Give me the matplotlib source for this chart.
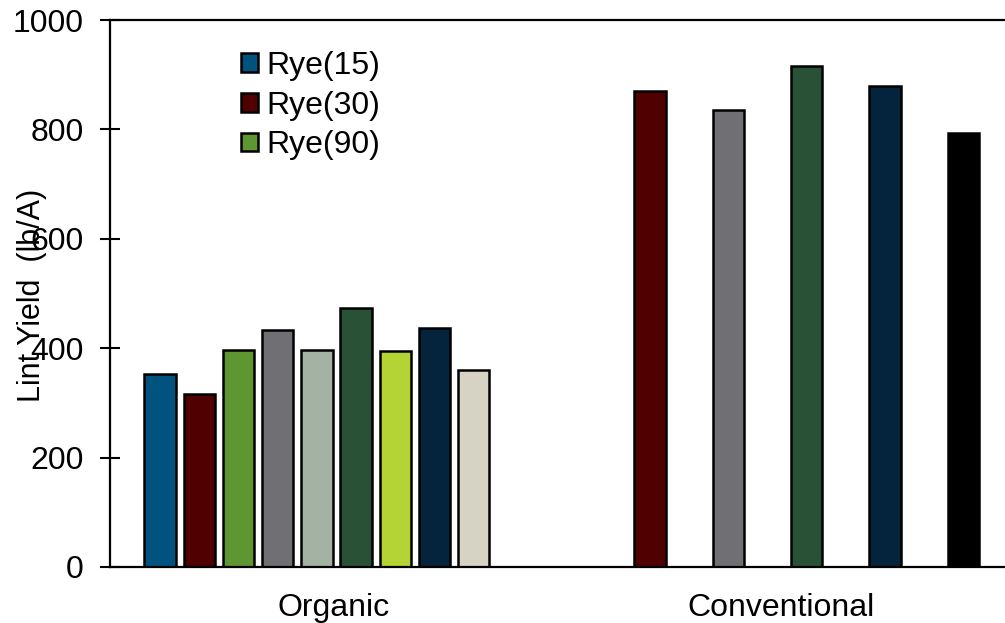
import matplotlib
matplotlib.use('Agg')
import matplotlib.pyplot as plt
import numpy as np

plt.rcParams['font.family'] = ['Liberation Sans', 'DejaVu Sans']

# organic treatments (only the first three are named in the legend)
organic_labels = ['Rye(15)', 'Rye(30)', 'Rye(90)', None, None, None, None, None, None]
organic_yield = [353, 317, 397, 434, 397, 474, 394, 437, 361]
organic_colors = ['#00527F', '#500000', '#5E9732', '#707074', '#A4B2A4',
                  '#285135', '#B4D334', '#04233C', '#D6D3C4']

conv_yield = [870, 836, 916, 880, 793]
conv_colors = ['#500000', '#707074', '#285135', '#04233C', '#000000']

groups = ['Organic', 'Conventional']

fig = plt.figure(figsize=(10.05, 6.23), dpi=100)
ax = fig.add_axes([110 / 1005, 56 / 623, 895 / 1005, 547 / 623])

x_org = np.arange(len(organic_yield))
x_conv = 12.5 + 2 * np.arange(len(conv_yield))
w = 0.8

for i in range(len(organic_yield)):
    ax.bar(x_org[i], organic_yield[i], w, color=organic_colors[i],
           edgecolor='black', linewidth=1.8, label=organic_labels[i], zorder=2)
for i in range(len(conv_yield)):
    ax.bar(x_conv[i], conv_yield[i], w, color=conv_colors[i],
           edgecolor='black', linewidth=1.8, zorder=2)

xmin, xmax = -1.28, 21.56
ax.set_xlim(xmin, xmax)
ax.set_ylim(0, 1000)
half = (xmax - xmin) / 2
ax.set_xticks([xmin + half / 2, xmin + 1.5 * half])
ax.set_xticklabels(groups)
ax.set_yticks(np.arange(0, 1001, 200))

fs = 23
ax.tick_params(axis='x', length=0, labelsize=fs, pad=19)
ax.tick_params(axis='y', direction='inout', length=14, width=1.5, labelsize=fs, pad=12)

for s in ['left', 'bottom', 'top']:
    ax.spines[s].set_linewidth(1.6)
ax.spines['right'].set_visible(False)

fig.text(32 / 1005, 1 - 295 / 623, 'Lint Yield  (lb/A)', rotation=90,
         ha='center', va='center', fontsize=22)

handles, labels = ax.get_legend_handles_labels()
ax.legend(handles, labels, loc='upper left', bbox_to_anchor=(241 / 1005, 1 - 51 / 623),
          bbox_transform=fig.transFigure, frameon=False, fontsize=fs,
          handlelength=0.52, handleheight=0.52, handletextpad=0.28,
          labelspacing=0.3, borderpad=0, borderaxespad=0)

fig.savefig('out.png', dpi=100)
